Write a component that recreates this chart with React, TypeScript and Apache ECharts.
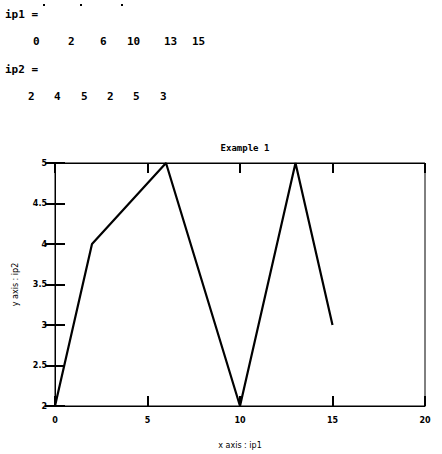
import React, { useEffect, useRef } from "react";
import * as echarts from "echarts";

const ip1 = [0, 2, 6, 10, 13, 15];
const ip2 = [2, 4, 5, 2, 5, 3];
const ip1TextX = [33, 68, 100, 127, 164, 192];
const ip2TextX = [28, 54, 81, 107, 133, 160];
const dotsX = [43, 80, 121];

export default function App() {
  const ref = useRef<HTMLDivElement>(null);
  useEffect(() => {
    if (!ref.current) return;
    const chart = echarts.init(ref.current, null, { renderer: "svg" });
    const mono = "'DejaVu Sans Mono', monospace";
    const f = `bold 11px ${mono}`;
    const topText: any[] = [];
    topText.push({ type: "text", x: 5, y: 9, style: { text: "ip1 =", font: f, fill: "#000" } });
    ip1.forEach((v, i) => {
      topText.push({ type: "text", x: ip1TextX[i], y: 36, style: { text: String(v), font: f, fill: "#000" } });
    });
    topText.push({ type: "text", x: 5, y: 64, style: { text: "ip2 =", font: f, fill: "#000" } });
    ip2.forEach((v, i) => {
      topText.push({ type: "text", x: ip2TextX[i], y: 91, style: { text: String(v), font: f, fill: "#000" } });
    });
    dotsX.forEach((x) => {
      topText.push({ type: "rect", shape: { x: x, y: 4, width: 2, height: 2 }, style: { fill: "#000" } });
    });
    const labelStyle = { color: "#000", fontSize: 8, fontFamily: "DejaVu Sans" };
    chart.setOption({
      animation: false,
      backgroundColor: "#fff",
      title: {
        text: "Example 1",
        left: 240,
        top: 138,
        textAlign: "center",
        textStyle: { fontSize: 9, fontWeight: "bold", color: "#000", fontFamily: mono },
      },
      graphic: topText,
      grid: { left: 55, right: 17, top: 163, bottom: 47, show: true, borderColor: "#000", borderWidth: 1 },
      xAxis: [
        {
          type: "value", min: 0, max: 20, interval: 5, position: "bottom",
          name: "x axis : ip1", nameLocation: "middle", nameGap: 35,
          nameTextStyle: { fontSize: 8, color: "#000", fontFamily: "DejaVu Sans" },
          axisLine: { show: true, lineStyle: { color: "#000", width: 1 } },
          axisTick: { show: true, inside: true, length: 10, lineStyle: { color: "#000", width: 2 } },
          axisLabel: { ...labelStyle, margin: 10, fontWeight: "bold" },
          splitLine: { show: false },
        },
        {
          type: "value", min: 0, max: 20, interval: 5, position: "top",
          axisLine: { show: true, lineStyle: { color: "#000", width: 1 } },
          axisTick: { show: true, inside: true, length: 10, lineStyle: { color: "#000", width: 2 } },
          axisLabel: { show: false },
          splitLine: { show: false },
        },
      ],
      yAxis: [
        {
          type: "value", min: 2, max: 5, interval: 0.5, position: "left",
          name: "y axis : ip2", nameLocation: "middle", nameGap: 36,
          nameTextStyle: { fontSize: 8, color: "#000", fontFamily: "DejaVu Sans" },
          axisLine: { show: true, lineStyle: { color: "#000", width: 1 } },
          axisTick: { show: true, inside: true, length: 10, lineStyle: { color: "#000", width: 2 } },
          axisLabel: { ...labelStyle, margin: 8, fontWeight: "bold" },
          splitLine: { show: false },
        },
        {
          type: "value", min: 2, max: 5, interval: 0.5, position: "right",
          axisLine: { show: true, lineStyle: { color: "#000", width: 1 } },
          axisTick: { show: true, inside: true, length: 10, lineStyle: { color: "#000", width: 2 } },
          axisLabel: { show: false },
          splitLine: { show: false },
        },
      ],
      series: [
        {
          type: "line",
          data: ip1.map((x, i) => [x, ip2[i]]),
          showSymbol: false,
          lineStyle: { color: "#000", width: 2.2 },
          xAxisIndex: 0,
          yAxisIndex: 0,
        },
      ],
    });
    return () => chart.dispose();
  }, []);
  return <div ref={ref} style={{ width: 442, height: 454, position: "absolute", left: 0, top: 0 }} />;
}
